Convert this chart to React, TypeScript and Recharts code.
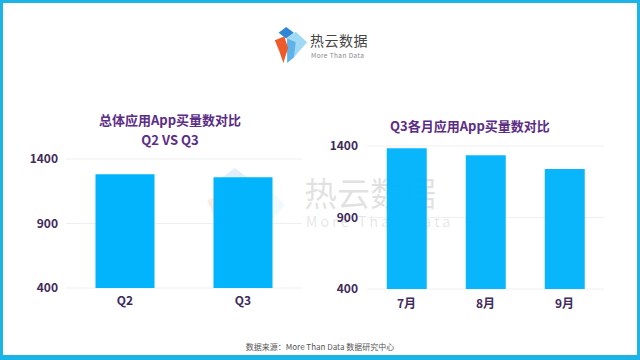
import React from "react";
import { BarChart, Bar, XAxis, YAxis, CartesianGrid } from "recharts";

const quarterCategories = ["Q2", "Q3"];
const quarterValues = [1281, 1258];
const monthCategories = ["7月", "8月", "9月"];
const monthValues = [1384, 1335, 1240];
const yTicks = [400, 900, 1400];

const quarterData = quarterCategories.map((name, i) => ({ name, value: quarterValues[i] }));
const monthData = monthCategories.map((name, i) => ({ name, value: monthValues[i] }));

const BAR = "#02b4fb";
const PURPLE = "#5b2d86";
const AXIS_TEXT = "#3e2a5c";
const FONT = "'Noto Sans CJK SC', 'Noto Sans', sans-serif";

const Logo = ({ x, y, s, op }: { x: number; y: number; s: number; op: number }) => (
  <svg
    width={40 * s}
    height={40 * s}
    viewBox="0 0 40 40"
    style={{ position: "absolute", left: x, top: y, opacity: op, pointerEvents: "none" }}
  >
    <polygon points="8,6 16,0 24,6 16,12" fill="#2f86d8" />
    <polygon points="17,11 26,5 38,16 24,32 17,26" fill="#9fd9f6" />
    <polygon points="17,12 26,16 24,32 17,38" fill="#5fb2ea" />
    <polygon points="4,14 14,10 18,22 13,38 9,26" fill="#ef5a2a" />
  </svg>
);

export default function App() {
  return (
    <div
      style={{
        position: "absolute",
        left: 0,
        top: 0,
        width: 640,
        height: 360,
        background: "#fff",
        overflow: "hidden",
        fontFamily: FONT,
      }}
    >
      {/* header logo */}
      <Logo x={271} y={27} s={0.95} op={1} />
      <div style={{ position: "absolute", left: 310, top: 31, fontSize: 14, color: "#444", letterSpacing: 0.5, lineHeight: "18px" }}>
        热云数据
      </div>
      <div style={{ position: "absolute", left: 311, top: 51, fontSize: 6.5, color: "#888", letterSpacing: 0.4, lineHeight: "8px" }}>
        More Than Data
      </div>

      {/* titles */}
      <div style={{ position: "absolute", left: 70, width: 200, top: 110, textAlign: "center", fontSize: 13, fontWeight: 700, color: PURPLE, lineHeight: "19px" }}>
        总体应用App买量数对比
      </div>
      <div style={{ position: "absolute", left: 70, width: 200, top: 130, textAlign: "center", fontSize: 13, fontWeight: 700, color: PURPLE, lineHeight: "19px" }}>
        Q2 VS Q3
      </div>
      <div style={{ position: "absolute", left: 370, width: 200, top: 116, textAlign: "center", fontSize: 13, fontWeight: 700, color: PURPLE, lineHeight: "19px" }}>
        Q3各月应用App买量数对比
      </div>

      {/* watermark (behind text labels) */}
      <Logo x={198} y={168} s={2.3} op={0.13} />
      <div style={{ position: "absolute", left: 304, top: 176, fontSize: 33, color: "rgba(150,150,150,0.28)", lineHeight: "33px", pointerEvents: "none" }}>
        热云数据
      </div>
      <div style={{ position: "absolute", left: 306, top: 214, fontSize: 14, color: "rgba(150,150,150,0.25)", letterSpacing: 3.2, lineHeight: "14px", pointerEvents: "none" }}>
        More Than Data
      </div>

      {/* left chart */}
      <div style={{ position: "absolute", left: 0, top: 0 }}>
        <BarChart width={320} height={360} data={quarterData} margin={{ top: 159, right: 18, bottom: 42, left: 0 }} barCategoryGap="25%">
          <CartesianGrid horizontal vertical={false} stroke="#efefef" />
          <XAxis
            dataKey="name"
            height={30}
            axisLine={false}
            tickLine={false}
            tickSize={0}
            tickMargin={8}
            tick={{ fill: AXIS_TEXT, fontSize: 12, fontWeight: 700, fontFamily: FONT }}
          />
          <YAxis
            domain={[400, 1400]}
            ticks={yTicks}
            width={66}
            axisLine={false}
            tickLine={false}
            tickSize={0}
            tickMargin={8}
            tick={{ fill: AXIS_TEXT, fontSize: 12, fontWeight: 700, fontFamily: FONT }}
          />
          <Bar dataKey="value" fill={BAR} isAnimationActive={false} />
        </BarChart>
      </div>

      {/* right chart */}
      <div style={{ position: "absolute", left: 320, top: 0 }}>
        <BarChart width={320} height={360} data={monthData} margin={{ top: 146, right: 36, bottom: 41, left: 0 }} barCategoryGap="25%">
          <CartesianGrid horizontal vertical={false} stroke="#efefef" />
          <XAxis
            dataKey="name"
            height={30}
            axisLine={false}
            tickLine={false}
            tickSize={0}
            tickMargin={10}
            tick={{ fill: AXIS_TEXT, fontSize: 12, fontWeight: 700, fontFamily: FONT }}
          />
          <YAxis
            domain={[400, 1400]}
            ticks={yTicks}
            width={47}
            axisLine={false}
            tickLine={false}
            tickSize={0}
            tickMargin={9}
            tick={{ fill: AXIS_TEXT, fontSize: 12, fontWeight: 700, fontFamily: FONT }}
          />
          <Bar dataKey="value" fill={BAR} fillOpacity={0.97} isAnimationActive={false} />
        </BarChart>
      </div>

      {/* footer */}
      <div style={{ position: "absolute", left: 0, width: 640, top: 342, textAlign: "center", fontSize: 8, color: "#555", lineHeight: "10px" }}>
        数据来源：More Than Data 数据研究中心
      </div>

      {/* frame */}
      <div
        style={{
          position: "absolute",
          left: 0,
          top: 0,
          width: 640,
          height: 360,
          boxSizing: "border-box",
          borderStyle: "solid",
          borderColor: "#1cb4e6",
          borderWidth: "3px 3px 5px 3px",
          pointerEvents: "none",
        }}
      />
    </div>
  );
}
